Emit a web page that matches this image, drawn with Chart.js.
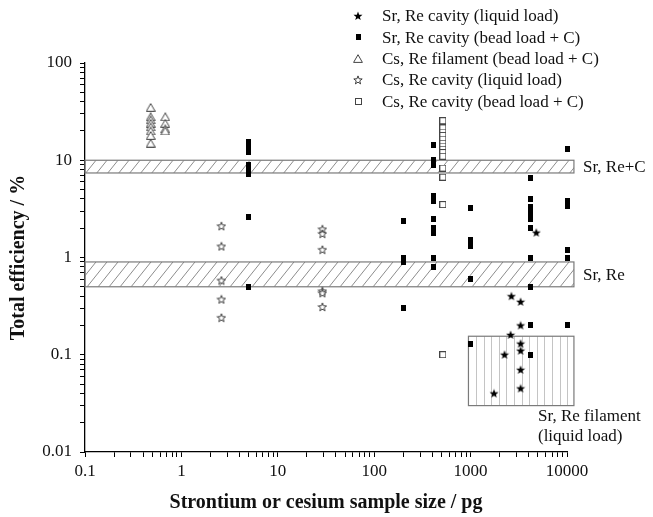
<!DOCTYPE html>
<html>
<head>
<meta charset="utf-8">
<script src="https://cdn.jsdelivr.net/npm/chart.js@4/dist/chart.umd.min.js"></script>
<style>
  html, body { margin: 0; padding: 0; background: #fff; }
</style>
</head>
<body>
<canvas id="effChart" width="653" height="517"></canvas>
<script>
// tick labels
const xTickValues = [0.1, 1, 10, 100, 1000, 10000];
const xTickLabels = ["0.1", "1", "10", "100", "1000", "10000"];
const yTickValues = [0.01, 0.1, 1, 10, 100];
const yTickLabels = ["0.01", "0.1", "1", "10", "100"];

// series (sample size in pg, total efficiency in %)
const srLiquidX = [4800, 2650, 3300, 3300, 2600, 3300, 3300, 2250, 3300, 3300, 1750];
const srLiquidY = [1.8, 0.40, 0.35, 0.20, 0.16, 0.13, 0.11, 0.10, 0.07, 0.045, 0.04];

const srBeadX = [5, 5, 5, 5, 5, 5, 5, 5,
  200, 200, 200, 200,
  410, 410, 410, 410, 410, 410, 410, 410, 410, 410,
  1000, 1000, 1000, 1000, 1000,
  4150, 4150, 4150, 4150, 4150, 4150, 4150, 4150, 4150, 4150,
  10000, 10000, 10000, 10000, 10000, 10000];
const srBeadY = [15.4, 13.7, 12.3, 9, 8, 7.2, 2.6, 0.5,
  2.4, 1.0, 0.9, 0.3,
  14.5, 10, 9, 4.3, 3.8, 2.5, 2.0, 1.8, 1.0, 0.8,
  3.2, 1.5, 1.3, 0.6, 0.13,
  6.5, 4.0, 3.3, 2.9, 2.5, 2.0, 1.0, 0.5, 0.2, 0.1,
  13, 3.8, 3.4, 1.2, 1.0, 0.2];

const csFilamentX = [0.48, 0.48, 0.48, 0.48, 0.48, 0.48, 0.48, 0.48, 0.68, 0.68, 0.68, 0.68];
const csFilamentY = [35, 28, 26, 24, 22, 20, 18, 15, 28, 24, 21, 20];

const csLiquidX = [2.6, 2.6, 2.6, 2.6, 2.6, 29, 29, 29, 29, 29, 29];
const csLiquidY = [2.1, 1.3, 0.58, 0.37, 0.24, 1.95, 1.75, 1.2, 0.45, 0.43, 0.31];

const csBeadX = [515, 515, 515, 515, 515, 515, 515, 515, 515, 515, 515, 515, 515, 515];
const csBeadY = [25.5, 21.5, 19.5, 18, 16.5, 15, 14, 13, 12, 11, 8.3, 6.7, 3.5, 0.1];

const seriesNames = [
  "Sr, Re cavity (liquid load)",
  "Sr, Re cavity (bead load + C)",
  "Cs, Re filament (bead load + C)",
  "Cs, Re cavity (liquid load)",
  "Cs, Re cavity (bead load + C)"
];

// reference ranges
const bandNames = ["Sr, Re+C", "Sr, Re"];
const bandLow = [7.4, 0.5];
const bandHigh = [10, 0.9];
const bandXRange = [0.1, 11800];
const filamentName = ["Sr, Re filament", "(liquid load)"];
const filamentX = [950, 11800];
const filamentY = [0.03, 0.155];

const serif = "'Liberation Serif', 'Times New Roman', serif";

function toPoints(xs, ys) {
  return xs.map((v, i) => ({ x: v, y: ys[i] }));
}

// marker images
function makeMarker(kind) {
  const c = document.createElement("canvas");
  const g = c.getContext("2d");
  if (kind === "starFilled" || kind === "starOpen") {
    c.width = 10; c.height = 10;
    const outer = kind === "starFilled" ? 4.7 : 4.4;
    const inner = outer * 0.42;
    g.beginPath();
    for (let k = 0; k < 10; k++) {
      const r = k % 2 === 0 ? outer : inner;
      const a = -Math.PI / 2 + k * Math.PI / 5;
      const px = 5 + r * Math.cos(a), py = 5.3 + r * Math.sin(a);
      if (k === 0) g.moveTo(px, py); else g.lineTo(px, py);
    }
    g.closePath();
    if (kind === "starFilled") {
      g.fillStyle = "#000"; g.fill();
    } else {
      g.fillStyle = "#fff"; g.fill();
      g.strokeStyle = "#2a2a2a"; g.lineWidth = 0.9; g.stroke();
    }
  } else if (kind === "squareFilled") {
    c.width = 5; c.height = 6;
    g.fillStyle = "#000"; g.fillRect(0, 0, 5, 6);
  } else if (kind === "squareOpen") {
    c.width = 7; c.height = 7;
    g.fillStyle = "#fff"; g.fillRect(0, 0, 7, 7);
    g.strokeStyle = "#444"; g.lineWidth = 1; g.strokeRect(0.5, 0.5, 6, 6);
  } else if (kind === "triangleOpen") {
    c.width = 10; c.height = 9;
    g.beginPath();
    g.moveTo(5, 0.7); g.lineTo(9.4, 8.4); g.lineTo(0.6, 8.4); g.closePath();
    g.fillStyle = "#fff"; g.fill();
    g.strokeStyle = "#444"; g.lineWidth = 1; g.stroke();
  }
  return c;
}

const markers = [
  makeMarker("starFilled"),
  makeMarker("squareFilled"),
  makeMarker("triangleOpen"),
  makeMarker("starOpen"),
  makeMarker("squareOpen")
];

function logTicks(min, max) {
  const out = [];
  const e0 = Math.round(Math.log10(min)), e1 = Math.round(Math.log10(max));
  for (let e = e0; e < e1; e++) {
    for (let k = 1; k < 10; k++) out.push({ value: k * Math.pow(10, e) });
  }
  out.push({ value: max });
  return out;
}

function decadeLabel(values, labels) {
  return function (value) {
    const i = values.findIndex(t => Math.abs(Math.log10(value) - Math.log10(t)) < 1e-6);
    return i >= 0 ? labels[i] : "";
  };
}

function hatchRect(ctx, left, top, right, bottom, mode) {
  ctx.save();
  ctx.beginPath();
  ctx.rect(left, top, right - left, bottom - top);
  ctx.clip();
  ctx.beginPath();
  if (mode === "diag") {
    const h = bottom - top, run = h * 0.8;
    for (let sx = left - run; sx < right + run; sx += 11) {
      ctx.moveTo(sx, bottom); ctx.lineTo(sx + run, top);
    }
    ctx.strokeStyle = "#8c8c8c";
  } else {
    for (let sx = left + 7.6; sx < right; sx += 7.6) {
      ctx.moveTo(Math.round(sx) + 0.5, top); ctx.lineTo(Math.round(sx) + 0.5, bottom);
    }
    ctx.strokeStyle = "#c4c4c4";
  }
  ctx.lineWidth = 1;
  ctx.stroke();
  ctx.restore();
  ctx.strokeStyle = "#7a7a7a";
  ctx.lineWidth = 1.2;
  ctx.strokeRect(left, top, right - left, bottom - top);
}

const rangePlugin = {
  id: "ranges",
  beforeDatasetsDraw(chart) {
    const { ctx, scales: { x, y } } = chart;
    ctx.save();
    ctx.font = "17px " + serif;
    ctx.fillStyle = "#111";
    ctx.textBaseline = "middle";
    ctx.textAlign = "left";
    bandLow.forEach((lo, i) => {
      const left = x.getPixelForValue(bandXRange[0]);
      const right = x.getPixelForValue(bandXRange[1]);
      const top = y.getPixelForValue(bandHigh[i]);
      const bottom = y.getPixelForValue(lo);
      hatchRect(ctx, left, top, right, bottom, "diag");
      ctx.fillText(bandNames[i], right + 9, (top + bottom) / 2 + 1);
    });
    const fl = x.getPixelForValue(filamentX[0]);
    const fr = x.getPixelForValue(filamentX[1]);
    const ft = y.getPixelForValue(filamentY[1]);
    const fb = y.getPixelForValue(filamentY[0]);
    hatchRect(ctx, fl, ft, fr, fb, "vert");
    ctx.fillText(filamentName[0], x.getPixelForValue(5000), fb + 11);
    ctx.fillText(filamentName[1], x.getPixelForValue(5000), fb + 31);
    ctx.restore();
  }
};

const legendPlugin = {
  id: "topLegend",
  afterDraw(chart) {
    const ctx = chart.ctx;
    ctx.save();
    ctx.font = "17px " + serif;
    ctx.fillStyle = "#111";
    ctx.textBaseline = "middle";
    ctx.textAlign = "left";
    seriesNames.forEach((name, i) => {
      const rowY = 16 + i * 21.3;
      const m = markers[i];
      ctx.drawImage(m, Math.round(358 - m.width / 2), Math.round(rowY - m.height / 2));
      ctx.fillText(name, 382, rowY + 1);
    });
    ctx.restore();
  }
};

const seriesX = [srLiquidX, srBeadX, csFilamentX, csLiquidX, csBeadX];
const seriesY = [srLiquidY, srBeadY, csFilamentY, csLiquidY, csBeadY];
const drawOrder = [2, 3, 1, 4, 0];

const ctx = document.getElementById("effChart").getContext("2d");
const chart = new Chart(ctx, {
  type: "scatter",
  data: {
    datasets: seriesNames.map((name, i) => ({
      label: name,
      data: toPoints(seriesX[i], seriesY[i]),
      pointStyle: markers[i],
      pointRadius: 4,
      clip: false,
      order: drawOrder[i]
    }))
  },
  options: {
    responsive: false,
    animation: false,
    layout: { padding: { left: 0, top: 63, right: 86, bottom: 0 } },
    plugins: {
      legend: { display: false },
      tooltip: { enabled: false }
    },
    scales: {
      x: {
        type: "logarithmic",
        min: 0.1,
        max: 10000,
        afterFit(scale) { scale.height = 65; },
        afterBuildTicks(scale) { scale.ticks = logTicks(0.1, 10000); },
        border: { display: true, color: "#000", width: 1.3 },
        grid: { drawOnChartArea: false, drawTicks: true, tickLength: 5, color: "#000", tickWidth: 1 },
        ticks: {
          autoSkip: false,
          maxRotation: 0,
          padding: 4,
          color: "#111",
          font: { family: serif, size: 17 },
          callback: decadeLabel(xTickValues, xTickLabels)
        },
        title: {
          display: true,
          text: "Strontium or cesium sample size / pg",
          color: "#111",
          font: { family: serif, size: 20, weight: "bold" },
          padding: { top: 4, bottom: 2 }
        }
      },
      y: {
        type: "logarithmic",
        min: 0.01,
        max: 100,
        afterFit(scale) { scale.width = 85; },
        afterBuildTicks(scale) { scale.ticks = logTicks(0.01, 100); },
        border: { display: true, color: "#000", width: 1.3 },
        grid: { drawOnChartArea: false, drawTicks: true, tickLength: 5, color: "#000", tickWidth: 1 },
        ticks: {
          autoSkip: false,
          padding: 8,
          color: "#111",
          font: { family: serif, size: 17 },
          callback: decadeLabel(yTickValues, yTickLabels)
        },
        title: {
          display: true,
          text: "Total efficiency / %",
          color: "#111",
          font: { family: serif, size: 20, weight: "bold" },
          padding: { top: 7, bottom: 0 }
        }
      }
    }
  },
  plugins: [rangePlugin, legendPlugin]
});
</script>
</body>
</html>
